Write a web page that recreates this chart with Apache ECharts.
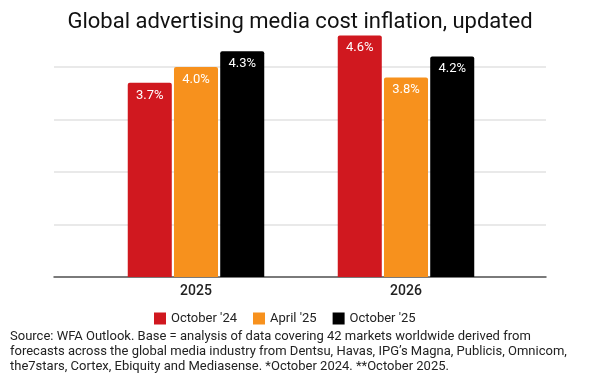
<!DOCTYPE html>
<html>
<head>
<meta charset="utf-8">
<script src="https://cdn.jsdelivr.net/npm/echarts@6/dist/echarts.min.js"></script>
<style>
  html, body { margin: 0; padding: 0; background: #fff; }
  #main { width: 600px; height: 375px; }
</style>
</head>
<body>
<div id="main"></div>
<script>
// data
var years = ['2025', '2026'];
var oct24 = [3.7, 4.6];
var apr25 = [4.0, 3.8];
var oct25 = [4.3, 4.2];
var seriesNames = ["October '24", "April '25", "October '25"];
var seriesColors = ['#d0181f', '#f7911d', '#000000'];
var sourceLines = [
    'Source: WFA Outlook. Base = analysis of data covering 42 markets worldwide derived from',
    'forecasts across the global media industry from Dentsu, Havas, IPG\u2019s Magna, Publicis, Omnicom,',
    'the7stars, Cortex, Ebiquity and Mediasense. *October 2024. **October 2025.'
];

var font = 'Roboto, sans-serif';
var chart = echarts.init(document.getElementById('main'));

function barSeries(name, values, color) {
    return {
        name: name,
        type: 'bar',
        xAxisIndex: 1,
        yAxisIndex: 1,
        data: values,
        barGap: '5%',
        barCategoryGap: '35%',
        itemStyle: { color: color, borderRadius: [2, 2, 0, 0] },
        label: {
            show: true,
            position: 'insideTop',
            distance: 6,
            color: '#fff',
            fontFamily: font,
            fontSize: 13,
            formatter: function (p) { return p.value.toFixed(1) + '%'; }
        }
    };
}

var sourceText = [];
for (var i = 0; i < sourceLines.length; i++) {
    sourceText.push({
        type: 'text',
        left: 10,
        top: 330 + i * 15,
        style: { text: sourceLines[i], font: '13px Roboto, sans-serif', fill: '#222' }
    });
}

var option = {
    animation: false,
    backgroundColor: '#fff',
    title: {
        text: 'Global advertising media cost inflation, updated',
        left: 'center',
        top: 6,
        textStyle: { fontFamily: font, fontSize: 22, fontWeight: 'normal', color: '#111' }
    },
    legend: {
        data: seriesNames,
        left: 149,
        top: 307,
        icon: 'rect',
        itemWidth: 12,
        itemHeight: 12,
        itemGap: 16,
        textStyle: { fontFamily: font, fontSize: 13, color: '#222' }
    },
    // grid 0 carries the gridlines and the baseline; grid 1 holds the bars
    grid: [
        { left: 54, right: 54, top: 35.5, bottom: 98 },
        { left: 91, right: 89, top: 35.5, bottom: 98 }
    ],
    xAxis: [
        {
            type: 'category', gridIndex: 0, data: years,
            axisLine: { show: true, lineStyle: { color: '#555', width: 1.5 } },
            axisTick: { show: false }, axisLabel: { show: false }
        },
        {
            type: 'category', gridIndex: 1, data: years,
            axisLine: { show: false }, axisTick: { show: false },
            axisLabel: { fontFamily: font, fontSize: 14, fontWeight: 500, color: '#222', margin: 7 }
        }
    ],
    yAxis: [
        {
            type: 'value', gridIndex: 0, min: 0, max: 4.6, interval: 1,
            axisLabel: { show: false }, axisLine: { show: false }, axisTick: { show: false },
            splitLine: { show: true, showMaxLine: false, lineStyle: { color: '#e2e2e2', width: 1.5 } }
        },
        {
            type: 'value', gridIndex: 1, min: 0, max: 4.6, interval: 1,
            show: false, splitLine: { show: false }
        }
    ],
    series: [
        barSeries(seriesNames[0], oct24, seriesColors[0]),
        barSeries(seriesNames[1], apr25, seriesColors[1]),
        barSeries(seriesNames[2], oct25, seriesColors[2])
    ],
    graphic: sourceText
};

chart.setOption(option);
</script>
</body>
</html>
